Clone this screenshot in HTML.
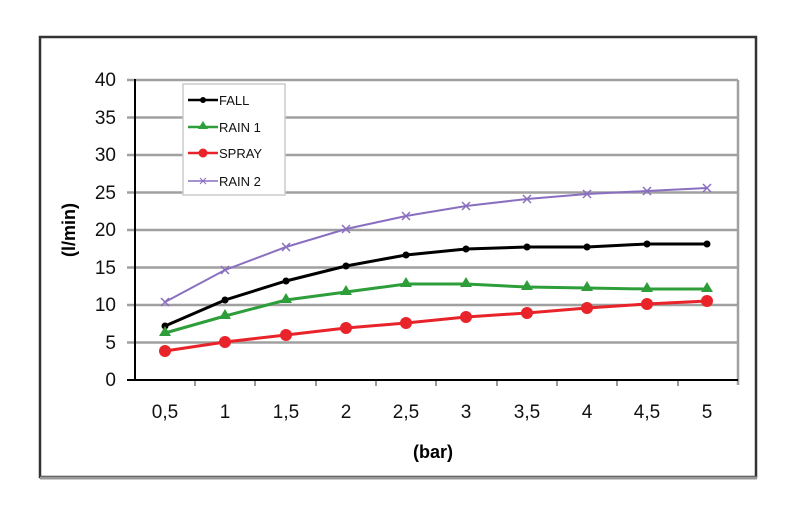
<!DOCTYPE html>
<html><head><style>body{margin:0;background:#fff}</style></head><body>
<svg width="800" height="524" xmlns="http://www.w3.org/2000/svg" font-family="Liberation Sans, sans-serif">
<rect x="40" y="37" width="716" height="440" fill="#fff" stroke="#333" stroke-width="2.5"/>
<line x1="40" y1="478" x2="757" y2="478" stroke="#999" stroke-width="3"/>
<g stroke="#a0a0a0" stroke-width="2.5">
<line x1="127" y1="80" x2="738" y2="80"/><line x1="127" y1="117.5" x2="738" y2="117.5"/>
<line x1="127" y1="155" x2="738" y2="155"/><line x1="127" y1="192.5" x2="738" y2="192.5"/>
<line x1="127" y1="230" x2="738" y2="230"/><line x1="127" y1="267.5" x2="738" y2="267.5"/>
<line x1="127" y1="305" x2="738" y2="305"/><line x1="127" y1="342.5" x2="738" y2="342.5"/>
<line x1="738" y1="80" x2="738" y2="385"/>
</g>
<g stroke="#999" stroke-width="2">
<line x1="195" y1="380" x2="195" y2="386"/><line x1="255" y1="380" x2="255" y2="386"/><line x1="316" y1="380" x2="316" y2="386"/><line x1="376" y1="380" x2="376" y2="386"/><line x1="436" y1="380" x2="436" y2="386"/><line x1="497" y1="380" x2="497" y2="386"/><line x1="557" y1="380" x2="557" y2="386"/><line x1="617" y1="380" x2="617" y2="386"/><line x1="678" y1="380" x2="678" y2="386"/>
</g>
<line x1="135" y1="79" x2="135" y2="380" stroke="#000" stroke-width="2"/>
<line x1="127" y1="380" x2="738" y2="380" stroke="#000" stroke-width="2"/>
<g font-size="19" text-anchor="end" fill="#111">
<text x="116" y="86">40</text><text x="116" y="124">35</text><text x="116" y="161">30</text><text x="116" y="199">25</text><text x="116" y="236">20</text><text x="116" y="274">15</text><text x="116" y="311">10</text><text x="116" y="349">5</text><text x="116" y="386">0</text>
</g>
<g font-size="19" text-anchor="middle" fill="#111">
<text x="165" y="418">0,5</text><text x="225" y="418">1</text><text x="286" y="418">1,5</text><text x="346" y="418">2</text><text x="406" y="418">2,5</text><text x="466" y="418">3</text><text x="527" y="418">3,5</text><text x="587" y="418">4</text><text x="647" y="418">4,5</text><text x="707" y="418">5</text>
</g>
<text x="433" y="458" font-size="18" font-weight="bold" text-anchor="middle">(bar)</text>
<text transform="translate(75,230) rotate(-90)" font-size="18" font-weight="bold" text-anchor="middle">(l/min)</text>
<polyline fill="none" stroke="#8a6fc0" stroke-width="2" points="165,302 225,270 286,247 346,229 406,216 466,206 527,199 587,194 647,191 707,188"/>
<g stroke="#8a6fc0" stroke-width="1.5">
<path d="M161,298l8,8M161,306l8,-8M221,266l8,8M221,274l8,-8M282,243l8,8M282,251l8,-8M342,225l8,8M342,233l8,-8M402,212l8,8M402,220l8,-8M462,202l8,8M462,210l8,-8M523,195l8,8M523,203l8,-8M583,190l8,8M583,198l8,-8M643,187l8,8M643,195l8,-8M703,184l8,8M703,192l8,-8"/>
</g>
<polyline fill="none" stroke="#000" stroke-width="3" points="165,326 225,300 286,281 346,266 406,255 466,249 527,247 587,247 647,244 707,244"/>
<g fill="#000"><circle cx="165" cy="326" r="3.5"/><circle cx="225" cy="300" r="3.5"/><circle cx="286" cy="281" r="3.5"/><circle cx="346" cy="266" r="3.5"/><circle cx="406" cy="255" r="3.5"/><circle cx="466" cy="249" r="3.5"/><circle cx="527" cy="247" r="3.5"/><circle cx="587" cy="247" r="3.5"/><circle cx="647" cy="244" r="3.5"/><circle cx="707" cy="244" r="3.5"/></g>
<polyline fill="none" stroke="#2e9e3a" stroke-width="3" points="165,333 225,316 286,300 346,292 406,284 466,284 527,287 587,288 647,289 707,289"/>
<g fill="#2e9e3a">
<path d="M165,326l6,10h-12z M225,309l6,10h-12z M286,293l6,10h-12z M346,285l6,10h-12z M406,277l6,10h-12z M466,277l6,10h-12z M527,280l6,10h-12z M587,281l6,10h-12z M647,282l6,10h-12z M707,282l6,10h-12z"/>
</g>
<polyline fill="none" stroke="#e8232a" stroke-width="3" points="165,351 225,342 286,335 346,328 406,323 466,317 527,313 587,308 647,304 707,301"/>
<g fill="#e8232a"><circle cx="165" cy="351" r="6"/><circle cx="225" cy="342" r="6"/><circle cx="286" cy="335" r="6"/><circle cx="346" cy="328" r="6"/><circle cx="406" cy="323" r="6"/><circle cx="466" cy="317" r="6"/><circle cx="527" cy="313" r="6"/><circle cx="587" cy="308" r="6"/><circle cx="647" cy="304" r="6"/><circle cx="707" cy="301" r="6"/></g>
<rect x="183" y="84" width="102" height="111" fill="#fff" stroke="#ccc" stroke-width="1.5"/>
<g font-size="13" fill="#111">
<line x1="188" y1="100" x2="218" y2="100" stroke="#000" stroke-width="2.5"/><circle cx="203" cy="100" r="3" fill="#000"/><text x="219" y="105">FALL</text>
<line x1="188" y1="127" x2="218" y2="127" stroke="#2e9e3a" stroke-width="2.5"/><path d="M203,121l5,8h-10z" fill="#2e9e3a"/><text x="219" y="132">RAIN 1</text>
<line x1="188" y1="153" x2="218" y2="153" stroke="#e8232a" stroke-width="2.5"/><circle cx="203" cy="153" r="4.5" fill="#e8232a"/><text x="219" y="158">SPRAY</text>
<line x1="188" y1="181" x2="218" y2="181" stroke="#8a6fc0" stroke-width="1.5"/><path d="M200,178l6,6M200,184l6,-6" stroke="#8a6fc0"/><text x="219" y="186">RAIN 2</text>
</g>
</svg>
</body></html>
